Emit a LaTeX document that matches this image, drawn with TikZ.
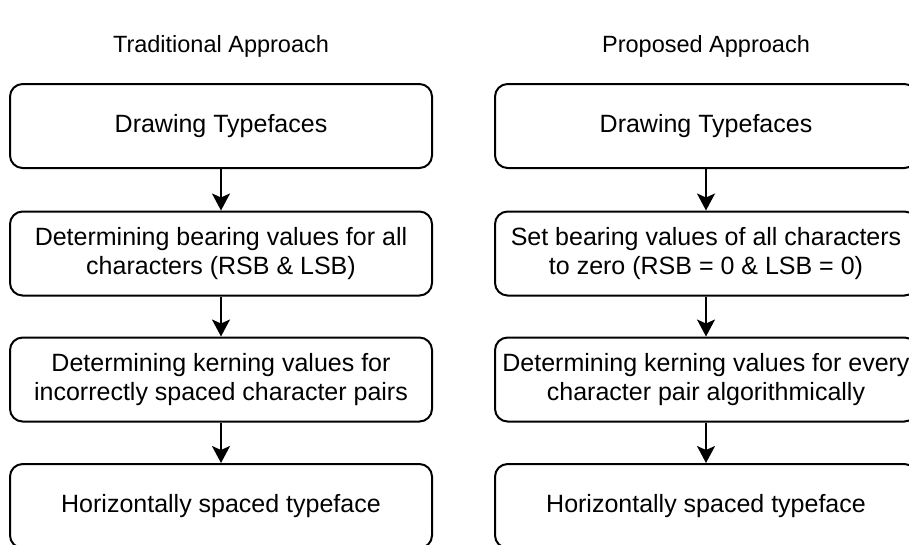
\documentclass[tikz,border=0pt]{standalone}
\usepackage{fontspec}
\setmainfont{Liberation Sans}
\usetikzlibrary{arrows.meta}
\begin{document}
\begin{tikzpicture}[x=1pt,y=-1pt,
  box/.style={draw, line width=2pt, rounded corners=12.6pt, minimum width=422pt, minimum height=84pt, inner sep=0pt, align=center, font=\fontsize{25}{29}\selectfont},
  title/.style={font=\fontsize{23.5}{28}\selectfont, inner sep=0pt},
  link/.style={line width=2pt, -{Stealth[length=17pt,width=18pt,inset=4pt]}}]
\useasboundingbox (0,0) rectangle (909,544);
\node[title] (t1) at (221,46) {Traditional Approach};
\node[title] (t2) at (706,46) {Proposed Approach};
\node[box] (a1) at (221,126) {Drawing Typefaces};
\node[box] (a2) at (221,253.5) {Determining bearing values for all\\characters (RSB \& LSB)};
\node[box] (a3) at (221,379.5) {Determining kerning values for\\incorrectly spaced character pairs};
\node[box] (a4) at (221,506) {Horizontally spaced typeface};
\node[box] (b1) at (706,126) {Drawing Typefaces};
\node[box] (b2) at (706,253.5) {Set bearing values of all characters\\to zero (RSB = 0 \& LSB = 0)};
\node[box] (b3) at (706,379.5) {Determining kerning values for every\\character pair algorithmically};
\node[box] (b4) at (706,506) {Horizontally spaced typeface};
\draw[link] (a1) -- (a2);
\draw[link] (a2) -- (a3);
\draw[link] (a3) -- (a4);
\draw[link] (b1) -- (b2);
\draw[link] (b2) -- (b3);
\draw[link] (b3) -- (b4);
\end{tikzpicture}
\end{document}
